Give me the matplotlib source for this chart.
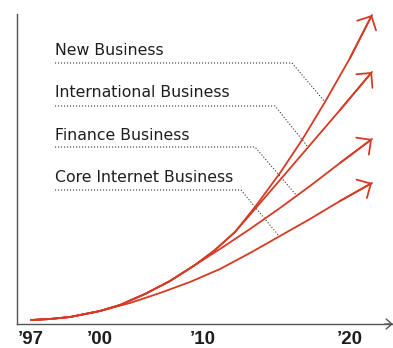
import matplotlib.pyplot as plt

RED = "#d53a23"
AXIS_GREY = "#555555"
INK = "#1e1e1e"

# schematic time axis: label positions along x
tick_pos = [14, 83, 186, 333]
tick_labels = ["\u201997", "\u201900", "\u201910", "\u201920"]

# growth curves (x position, index value)
core_x = [14, 33, 53, 83, 113, 143, 173, 203, 233, 263, 293, 323, 355]
core_y = [4, 5, 7, 13, 21, 31, 42, 55, 71, 88, 105, 123, 141]

finance_x = [14, 33, 53, 83, 103, 128, 153, 178, 203, 233, 263, 293, 323, 355]
finance_y = [4, 5, 7, 13, 19, 30, 43, 59, 75, 95, 116, 138, 161, 185]

intl_x = [14, 33, 53, 83, 103, 128, 153, 178, 198, 218, 238, 263, 293, 323, 355]
intl_y = [4, 5, 7, 13, 19, 30, 43, 59, 74, 92, 115, 144, 179, 214, 252]

new_x = [14, 33, 53, 83, 103, 128, 153, 178, 198, 218, 238, 263, 285, 308, 333, 355]
new_y = [4, 5, 7, 13, 19, 30, 43, 59, 74, 92, 117, 151, 184, 222, 266, 309]

series_names = ["New Business", "International Business",
                "Finance Business", "Core Internet Business"]
label_y = [269, 227, 184, 142]
# leader lines: underline end x, then the point where they meet the curve
underline_y = [261, 218, 177, 134]
underline_end = [275, 258, 238, 224]
leader_tip = [(308, 222), (291, 177), (280, 128), (262, 88)]

fig = plt.figure(figsize=(3.93, 3.48), dpi=100)
ax = fig.add_axes([17 / 393, 24 / 348, 375 / 393, 310 / 348])
ax.set_xlim(0, 375)
ax.set_ylim(0, 310)

for s in ["top", "right"]:
    ax.spines[s].set_visible(False)
for s in ["left", "bottom"]:
    ax.spines[s].set_color(AXIS_GREY)
    ax.spines[s].set_linewidth(1.0)
ax.annotate("", xy=(376, 0), xytext=(368, 0), annotation_clip=False,
            arrowprops=dict(arrowstyle="->,head_length=0.35,head_width=0.3",
                            color=AXIS_GREY, lw=1.0, shrinkA=0, shrinkB=0,
                            mutation_scale=12))

ax.set_yticks([])
ax.set_xticks(tick_pos)
ax.set_xticklabels(tick_labels, fontfamily="Liberation Sans",
                   fontweight="bold", fontsize=13.5, color=INK)
ax.tick_params(axis="x", length=0, pad=5)

for xs, ys in [(core_x, core_y), (finance_x, finance_y),
               (intl_x, intl_y), (new_x, new_y)]:
    ax.plot(xs, ys, color=RED, lw=1.3, solid_capstyle="round",
            solid_joinstyle="round", zorder=3, clip_on=False)
    ax.annotate("", xy=(xs[-1], ys[-1]), xytext=(xs[-2], ys[-2]),
                annotation_clip=False,
                arrowprops=dict(arrowstyle="->,head_length=0.38,head_width=0.38",
                                color=RED, lw=1.3, shrinkA=0, shrinkB=0,
                                mutation_scale=20), zorder=3)

for name, ty, uy, ux, tip in zip(series_names, label_y, underline_y,
                                 underline_end, leader_tip):
    ax.text(38, ty, name, fontsize=11.3, color=INK, va="baseline",
            fontfamily="DejaVu Sans")
    ax.plot([38, ux, tip[0]], [uy, uy, tip[1]], color="#333333", lw=0.8,
            linestyle=(0, (1, 1.7)), zorder=2)

fig.savefig("out.png", dpi=100)
